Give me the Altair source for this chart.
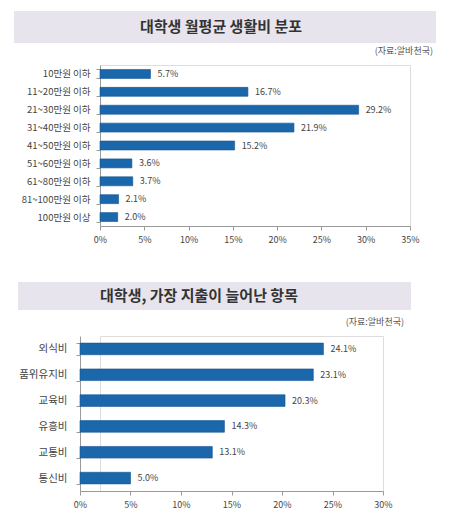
import altair as alt
import pandas as pd

# Chart 1 data
cats1 = ["10만원 이하", "11~20만원 이하", "21~30만원 이하", "31~40만원 이하", "41~50만원 이하",
         "51~60만원 이하", "61~80만원 이하", "81~100만원 이하", "100만원 이상"]
vals1 = [5.7, 16.7, 29.2, 21.9, 15.2, 3.6, 3.7, 2.1, 2.0]
title1 = "대학생 월평균 생활비 분포"

# Chart 2 data
cats2 = ["외식비", "품위유지비", "교육비", "유흥비", "교통비", "통신비"]
vals2 = [24.1, 23.1, 20.3, 14.3, 13.1, 5.0]
title2 = "대학생, 가장 지출이 늘어난 항목"

ticks1 = [0, 5, 10, 15, 20, 25, 30, 35]
ticks2 = [0, 5, 10, 15, 20, 25, 30]

source = "(자료:알바천국)"
FONT = "Noto Sans CJK KR"
BAR = "#1b67ab"
BOX = "#e7e4ee"


def section(cats, vals, title, ticks, w, h, box, title_x, title_y, src_x, src_y, pad_inner,
            shift=0, ylab=9.5, ypad=6):
    df = pd.DataFrame({"cat": cats, "val": vals, "label": [f"{v:.1f}%" for v in vals]})
    base = alt.Chart(df)
    xs = alt.Scale(domain=[ticks[0], ticks[-1]], nice=False, range=[-shift, w - shift])
    xenc = alt.X("val:Q", scale=xs,
                 axis=alt.Axis(labelExpr="datum.value + '%'", values=ticks, grid=False, title=None,
                               labelOverlap=False, labelFlush=False,
                               domainColor="#9a9a9a", tickColor="#9a9a9a", tickSize=4,
                               labelColor="#444", labelFontSize=9, labelFont=FONT, labelPadding=5))
    yenc = alt.Y("cat:N", sort=cats, scale=alt.Scale(paddingInner=pad_inner, paddingOuter=pad_inner / 2),
                 axis=alt.Axis(title=None, grid=False, domainColor="#9a9a9a", tickColor="#9a9a9a",
                               tickSize=4, tickBand="extent", labelColor="#444", labelFontSize=ylab,
                               labelFont=FONT, labelPadding=ypad, offset=shift))
    bars = base.mark_bar(color=BAR, stroke="#15558f", strokeWidth=0.6).encode(x=xenc, y=yenc)
    text = base.mark_text(align="left", dx=7, font=FONT, fontSize=9, color="#444").encode(
        x="val:Q", y=alt.Y("cat:N", sort=cats), text="label:N")
    hdr = pd.DataFrame({"t": [title]})
    rect = alt.Chart(hdr).mark_rect(color=BOX).encode(
        x=alt.value(box[0]), x2=alt.value(box[1]), y=alt.value(box[2]), y2=alt.value(box[3]))
    ttl = alt.Chart(hdr).mark_text(font=FONT, fontSize=15, fontWeight="bold", color="#333",
                                   align="center", baseline="middle").encode(
        x=alt.value(title_x), y=alt.value(title_y), text="t:N")
    src = alt.Chart(pd.DataFrame({"s": [source]})).mark_text(
        font=FONT, fontSize=9, color="#555", align="right", baseline="middle").encode(
        x=alt.value(src_x), y=alt.value(src_y), text="s:N")
    return alt.layer(rect, ttl, src, bars, text).properties(width=w - shift, height=h)


c1 = section(cats1, vals1, title1, ticks1, 310, 161, (-86, 336, -54, -22), 121, -38, 333, -14, 0.5)
# second panel: plot starts 20px left of the first one's
c2 = section(cats2, vals2, title2, ticks2, 303, 155, (-82, 311, -54, -26), 99, -40, 304, -14, 0.55,
             shift=20, ylab=10.5, ypad=9)

chart = alt.concat(c1, c2, columns=1, spacing=36).properties(
    align="none",
    padding={"left": 5, "top": 2, "right": 5, "bottom": 5}
).configure_view(stroke=None).configure(background="white")

chart.save("out.html", embed_options={"renderer": "svg", "actions": False})
